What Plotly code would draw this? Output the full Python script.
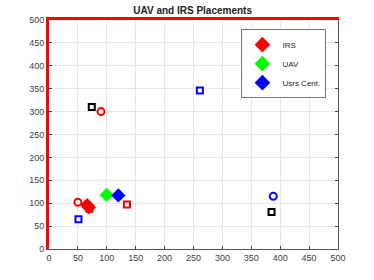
import plotly.graph_objects as go

# Diamonds (legend entries)
irs_x = [66, 69]
irs_y = [96, 91]
uav_x = [100]
uav_y = [118]
cent_x = [120]
cent_y = [117]

# Circles
red_circ_x = [50, 90]
red_circ_y = [102, 300]
blue_circ_x = [388]
blue_circ_y = [115]

# Squares
black_sq_x = [74, 385]
black_sq_y = [310, 81]
blue_sq_x = [261, 51]
blue_sq_y = [346, 65]
red_sq_x = [135, 70]
red_sq_y = [97, 88]

ticks = list(range(0, 501, 50))

fig = go.Figure()

def sq(x, y, c):
    fig.add_trace(go.Scatter(x=x, y=y, mode="markers", showlegend=False,
                             marker=dict(symbol="square-open", size=6, color=c,
                                         line=dict(width=2, color=c))))

def circ(x, y, c):
    fig.add_trace(go.Scatter(x=x, y=y, mode="markers", showlegend=False,
                             marker=dict(symbol="circle-open", size=7, color=c,
                                         line=dict(width=2, color=c))))

fig.add_trace(go.Scatter(x=irs_x, y=irs_y, mode="markers", name="IRS",
                         marker=dict(symbol="diamond", size=11, color="#ff0000")))
fig.add_trace(go.Scatter(x=uav_x, y=uav_y, mode="markers", name="UAV",
                         marker=dict(symbol="diamond", size=11, color="#00ff00")))
fig.add_trace(go.Scatter(x=cent_x, y=cent_y, mode="markers", name="Usrs Cent.",
                         marker=dict(symbol="diamond", size=11, color="#0000ff")))
circ(red_circ_x, red_circ_y, "#ff0000")
circ(blue_circ_x, blue_circ_y, "#0000ff")
sq(black_sq_x, black_sq_y, "#000000")
sq(blue_sq_x, blue_sq_y, "#0000ff")
sq(red_sq_x, red_sq_y, "#ff0000")

# dummy traces to activate mirror axes
fig.add_trace(go.Scatter(x=[None], y=[None], xaxis="x2", yaxis="y", showlegend=False))
fig.add_trace(go.Scatter(x=[None], y=[None], xaxis="x", yaxis="y2", showlegend=False))

axfont = dict(family="Liberation Sans, Arial, sans-serif", size=9, color="#404040")
fig.update_layout(
    width=374, height=280,
    margin=dict(l=49, r=36, t=20, b=31, autoexpand=False),
    paper_bgcolor="white", plot_bgcolor="white",
    title=dict(text="<b>UAV and IRS Placements</b>", x=0.515, xanchor="center",
               y=0.974, yanchor="top",
               font=dict(family="Liberation Sans, Arial, sans-serif", size=10, color="#222")),
    xaxis=dict(range=[0, 500], tickvals=ticks, ticks="inside", ticklen=3,
               tickcolor="#444", showline=True, linecolor="#555", linewidth=1,
               showgrid=True, gridcolor="#e6e6e6", zeroline=False, tickfont=axfont,
               automargin=False),
    yaxis=dict(range=[0, 500], tickvals=ticks, ticks="inside", ticklen=3,
               tickcolor="#444", showline=True, linecolor="#ff0000", linewidth=3,
               showgrid=True, gridcolor="#e6e6e6", zeroline=False, tickfont=axfont,
               automargin=False),
    xaxis2=dict(range=[0, 500], overlaying="x", side="top", anchor="y",
                showline=True, linecolor="#ff0000", linewidth=3, showticklabels=False,
                showgrid=False, zeroline=False, ticks="", automargin=False),
    yaxis2=dict(range=[0, 500], overlaying="y", side="right", anchor="x",
                tickvals=ticks, ticks="inside", ticklen=3, tickcolor="#444",
                showline=True, linecolor="#555", linewidth=1, showticklabels=False,
                showgrid=False, zeroline=False, automargin=False),
    legend=dict(x=0.96, y=0.96, xanchor="right", yanchor="top",
                bgcolor="white", bordercolor="#777", borderwidth=1,
                font=dict(family="Liberation Sans, Arial, sans-serif", size=8, color="#222"),
                itemsizing="constant", tracegroupgap=0, itemwidth=30),
    showlegend=True,
)

fig.write_html("out.html", config={"displayModeBar": False},
               post_script="document.body.style.margin='0';document.body.style.padding='0';")
